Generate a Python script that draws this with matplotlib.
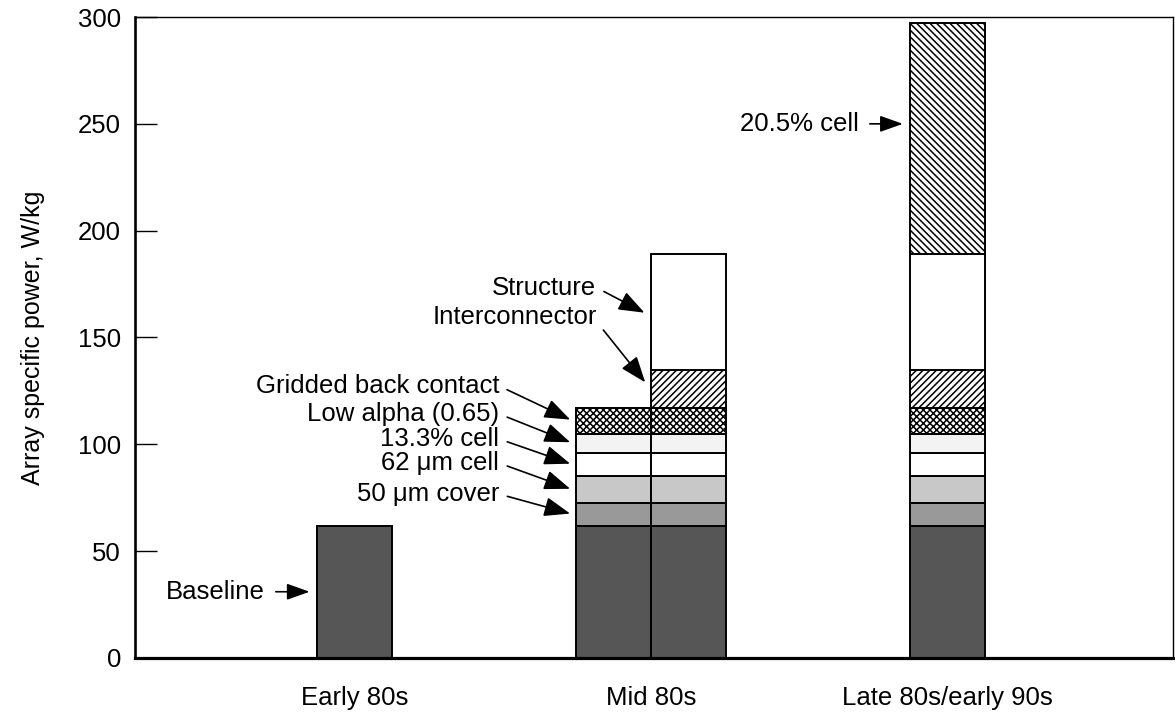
import matplotlib
matplotlib.use('Agg')
import matplotlib.pyplot as plt
import numpy as np

plt.rcParams['font.family'] = ['Liberation Sans', 'DejaVu Sans']
plt.rcParams['hatch.linewidth'] = 1.1

# data
periods = ['Early 80s', 'Mid 80s', 'Late 80s/early 90s']
layers = ['Baseline', '50 \u03bcm cover', '62 \u03bcm cell', '13.3% cell',
          'Low alpha (0.65)', 'Gridded back contact', 'Interconnector',
          'Structure', '20.5% cell']
increments = [62, 10.5, 12.5, 11, 9, 12, 18, 54, 108]
# how many layers each column stacks: early, mid (left half), mid (right half), late
column_period = [0, 1, 1, 2]
column_layers = [1, 6, 8, 9]

# looks of each layer
faces = ['#565656', '#999999', '#c8c8c8', 'white', '#f3f3f3',
         'white', 'white', 'white', 'white']
hatches = [None, None, None, None, None, 'xxxxx', '/////', None, '\\\\\\\\\\']

width = 0.254
offsets = [0.0, -width / 2, width / 2, 0.0]

fig = plt.figure(figsize=(11.75, 7.18), dpi=100)
ax = fig.add_axes([0.1149, 0.0836, 0.9834 - 0.1149 + 0.015, 0.9763 - 0.0836])

bottoms = np.concatenate([[0], np.cumsum(increments)[:-1]])
for col, (p, n) in enumerate(zip(column_period, column_layers)):
    x = p + offsets[col]
    for i in range(n):
        ax.bar(x, increments[i], width=width, bottom=bottoms[i],
               color=faces[i], hatch=hatches[i], edgecolor='black',
               linewidth=1.4, zorder=2)

ax.set_xlim(-0.74, 2.76)
ax.set_ylim(0, 300)
ax.set_xticks(range(len(periods)))
ax.set_xticklabels(periods, fontsize=18.5)
ax.set_yticks(np.arange(0, 301, 50))
ax.tick_params(axis='x', length=0, pad=20)
ax.tick_params(axis='y', direction='in', length=16, width=1.0, pad=10,
               labelsize=18.5)
ax.set_ylabel('Array specific power, W/kg', fontsize=18)
ax.yaxis.set_label_coords(-0.087, 0.5)

ax.spines['left'].set_linewidth(1.9)
ax.spines['bottom'].set_linewidth(2.3)
ax.spines['top'].set_linewidth(1.0)
ax.spines['right'].set_linewidth(1.0)

mid = bottoms + np.array(increments) / 2
arrow = dict(arrowstyle='-|>,head_length=0.8,head_width=0.3', color='black',
             lw=1.2, mutation_scale=20, shrinkA=4, shrinkB=2)

# left-side labels for the mid 80s layers
left_edge = 1 - width
label_y = [76.7, 91.2, 102.5, 114.2, 127.3]
for k, ty in zip(range(1, 6), label_y):
    ax.annotate(layers[k], xy=(left_edge - 0.01, mid[k]), xytext=(0.488, ty),
                ha='right', va='center', fontsize=18.5,
                arrowprops=dict(arrow, relpos=(1.0, 0.5)))

# interconnector and structure point at the right half
ax.annotate(layers[6], xy=(0.986, mid[6] + 2), xytext=(0.818, 159.4),
            ha='right', va='center', fontsize=18.5,
            arrowprops=dict(arrow, relpos=(1.0, 0.3)))
ax.annotate(layers[7], xy=(0.986, mid[7] - 1), xytext=(0.815, 173.4),
            ha='right', va='center', fontsize=18.5,
            arrowprops=dict(arrow, relpos=(1.0, 0.5)))

# horizontal arrows
ax.annotate(layers[0], xy=(-width / 2 - 0.015, mid[0]), xytext=(-0.303, mid[0]),
            ha='right', va='center', fontsize=18.5,
            arrowprops=dict(arrow, relpos=(1.0, 0.5), shrinkA=6,
                            arrowstyle='-|>,head_length=0.7,head_width=0.25'))
ax.annotate(layers[8], xy=(2 - width / 2 - 0.015, 250), xytext=(1.70, 250),
            ha='right', va='center', fontsize=18.5,
            arrowprops=dict(arrow, relpos=(1.0, 0.5), shrinkA=6,
                            arrowstyle='-|>,head_length=0.7,head_width=0.25'))

fig.savefig('out.png', dpi=100)
